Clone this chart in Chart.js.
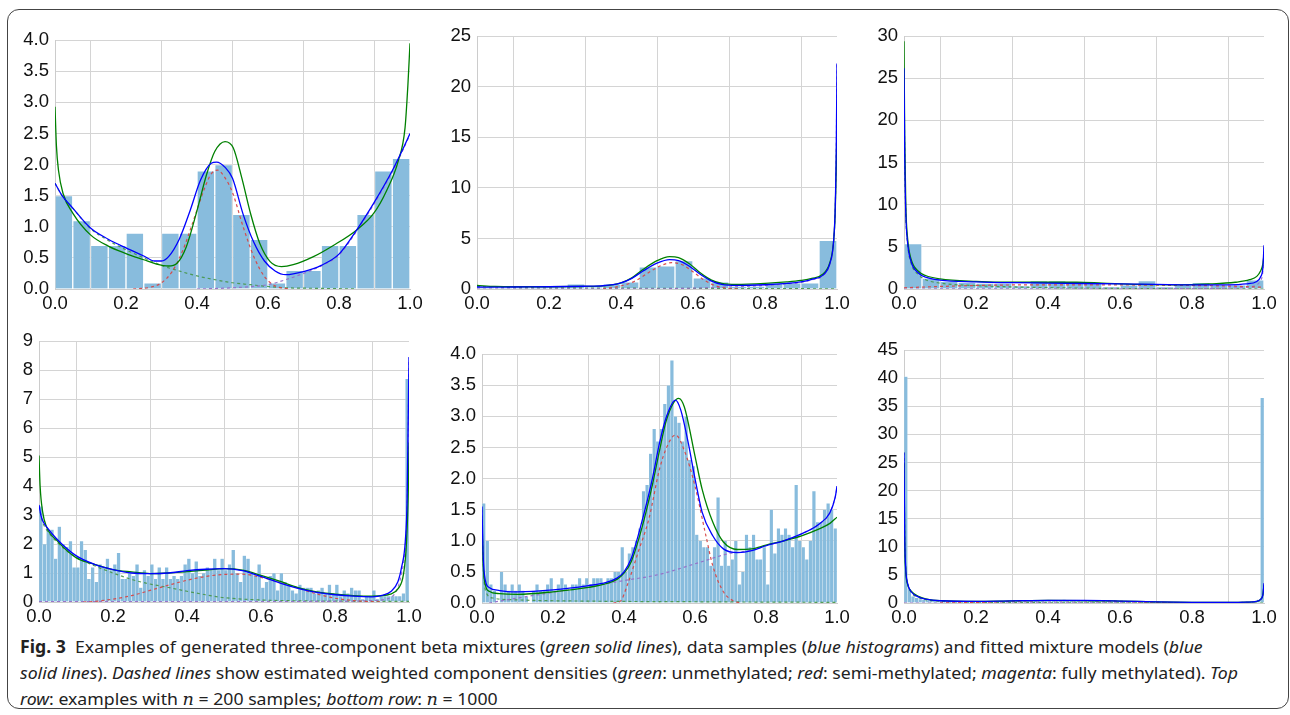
<!DOCTYPE html>
<html>
<head>
<meta charset="utf-8">
<script src="https://cdn.jsdelivr.net/npm/chart.js@4.4.1/dist/chart.umd.min.js"></script>
<style>
  body { margin: 0; background: #fff; width: 1290px; height: 715px; overflow: hidden; position: relative; }
  #frame { position: absolute; left: 7px; top: 9px; width: 1282px; height: 700px; border: 1.5px solid #444; border-radius: 12px; box-sizing: border-box; }
  .panel { position: absolute; }
  #caption { position: absolute; left: 20px; top: 634px; font-family: "Noto Sans", "DejaVu Sans", sans-serif; font-size: 17px; color: #222; transform-origin: 0 0; }
  #caption .ln { white-space: nowrap; line-height: 26px; height: 26px; }
  #caption .m { font-family: "DejaVu Serif", serif; }
</style>
</head>
<body>
<div id="frame"></div>
<div id="caption">
  <div class="ln" id="cap1"><b>Fig. 3</b>&nbsp; Examples of generated three-component beta mixtures (<i>green solid lines</i>), data samples (<i>blue histograms</i>) and fitted mixture models (<i>blue</i></div>
  <div class="ln"><i>solid lines</i>). <i>Dashed lines</i> show estimated weighted component densities (<i>green</i>: unmethylated; <i>red</i>: semi-methylated; <i>magenta</i>: fully methylated). <i>Top</i></div>
  <div class="ln"><i>row</i>: examples with <i class="m">n</i> = 200 samples; <i>bottom row</i>: <i class="m">n</i> = 1000</div>
</div>
<script>
// x axis ticks (same for every panel)
const xTicks = [0, 0.2, 0.4, 0.6, 0.8, 1.0];

// ---- top row, n = 200, 20 bins ----
const hist1 = [1.5, 1.1, 0.7, 0.7, 0.9, 0.1, 0.9, 0.9, 1.9, 2.0, 1.2, 0.8, 0.1, 0.3, 0.3, 0.7, 0.7, 1.2, 1.9, 2.1];
const p1Mix = [[0,2.93],[0.004,2.3],[0.01,1.9],[0.023,1.53],[0.05,1.22],[0.1,0.87],[0.15,0.69],[0.2,0.57],[0.25,0.47],[0.286,0.40],[0.32,0.37],[0.343,0.41],[0.37,0.68],[0.4,1.26],[0.427,1.84],[0.45,2.21],[0.479,2.37],[0.502,2.27],[0.526,1.79],[0.551,1.21],[0.577,0.73],[0.606,0.44],[0.638,0.36],[0.671,0.39],[0.728,0.52],[0.784,0.70],[0.85,0.95],[0.897,1.21],[0.934,1.58],[0.967,2.06],[0.986,2.59],[0.994,3.27],[1.0,3.95]];
const p1Fit = [[0,1.70],[0.02,1.5],[0.05,1.3],[0.1,0.98],[0.15,0.8],[0.2,0.66],[0.25,0.53],[0.28,0.45],[0.3,0.45],[0.32,0.52],[0.35,0.8],[0.38,1.25],[0.41,1.75],[0.44,2.02],[0.455,2.04],[0.48,1.95],[0.5,1.78],[0.53,1.2],[0.56,0.75],[0.59,0.45],[0.62,0.29],[0.65,0.23],[0.7,0.28],[0.75,0.38],[0.8,0.56],[0.85,0.95],[0.9,1.4],[0.95,1.9],[0.98,2.25],[1.0,2.5]];
const p1Unmeth = [[0,1.70],[0.02,1.5],[0.05,1.3],[0.1,0.97],[0.15,0.78],[0.2,0.63],[0.25,0.5],[0.3,0.38],[0.35,0.29],[0.4,0.21],[0.45,0.15],[0.5,0.1],[0.55,0.07],[0.6,0.04],[0.65,0.02],[0.75,0.01],[0.85,0]];
const p1Semi = [[0.22,0],[0.27,0.03],[0.3,0.1],[0.33,0.28],[0.36,0.62],[0.39,1.1],[0.42,1.6],[0.44,1.85],[0.458,1.91],[0.475,1.82],[0.5,1.55],[0.53,1.0],[0.56,0.52],[0.59,0.2],[0.62,0.05],[0.66,0]];
const p1Full = [[0.4,0],[0.5,0.02],[0.6,0.07],[0.65,0.15],[0.7,0.25],[0.75,0.37],[0.8,0.55],[0.85,0.93],[0.9,1.38],[0.95,1.88],[1.0,2.48]];

const hist2 = [0.2, 0.1, 0.1, 0.2, 0.2, 0.5, 0.2, 0.5, 0.7, 2.2, 2.3, 2.8, 1.1, 0.7, 0.3, 0.3, 0.6, 0.6, 0.6, 4.8];
const p2Mix = [[0,0.35],[0.05,0.25],[0.1,0.22],[0.2,0.22],[0.3,0.25],[0.35,0.3],[0.4,0.6],[0.43,1.1],[0.46,1.9],[0.5,2.8],[0.535,3.2],[0.56,3.1],[0.59,2.5],[0.62,1.6],[0.65,0.9],[0.68,0.55],[0.72,0.45],[0.8,0.55],[0.86,0.7],[0.9,0.85],[0.93,1.05],[0.96,1.45],[0.98,2.6],[0.99,4.5],[0.995,7.5],[0.998,12],[1.0,17.2]];
const p2Fit = [[0,0.2],[0.05,0.18],[0.1,0.2],[0.2,0.22],[0.3,0.27],[0.35,0.32],[0.4,0.6],[0.43,1.05],[0.46,1.75],[0.5,2.55],[0.535,2.9],[0.56,2.8],[0.59,2.25],[0.62,1.45],[0.65,0.8],[0.68,0.45],[0.72,0.35],[0.8,0.42],[0.86,0.55],[0.9,0.7],[0.93,0.95],[0.96,1.35],[0.98,2.5],[0.99,4.5],[0.995,8],[0.998,14],[1.0,22.3]];
const p2Unmeth = [[0,0.25],[0.1,0.15],[0.2,0.12],[0.3,0.1],[0.5,0.07],[0.7,0.05],[0.9,0.03],[1.0,0.02]];
const p2Semi = [[0.35,0],[0.4,0.3],[0.44,0.8],[0.48,1.7],[0.51,2.3],[0.54,2.6],[0.57,2.4],[0.6,1.7],[0.63,0.9],[0.66,0.35],[0.7,0.05],[0.73,0]];
const p2Full = [[0,0],[0.5,0.02],[0.7,0.2],[0.8,0.35],[0.86,0.5],[0.9,0.65],[0.93,0.9],[0.96,1.3],[0.98,2.45],[0.99,4.45],[0.995,7.9],[0.998,13.9],[1.0,22.2]];

const hist3 = [5.4, 1.3, 0.9, 0.8, 0.7, 0.7, 0.4, 1.0, 1.0, 0.8, 0.7, 0.3, 0.5, 1.0, 0.3, 0.5, 0.8, 0.5, 0.5, 1.1];
const p3Mix = [[0,29.4],[0.002,18],[0.005,10],[0.01,6],[0.02,3.5],[0.04,2.1],[0.06,1.6],[0.1,1.2],[0.2,0.9],[0.3,0.8],[0.4,0.8],[0.48,0.8],[0.55,0.7],[0.65,0.55],[0.75,0.5],[0.85,0.6],[0.92,0.8],[0.96,1.1],[0.98,1.5],[0.99,2.1],[0.997,3],[1.0,4.2]];
const p3Fit = [[0,26.2],[0.002,16],[0.005,9],[0.01,5.5],[0.02,3.2],[0.04,1.9],[0.06,1.4],[0.1,1.05],[0.2,0.85],[0.3,0.75],[0.4,0.7],[0.5,0.65],[0.6,0.6],[0.7,0.55],[0.8,0.5],[0.9,0.5],[0.95,0.6],[0.98,0.9],[0.99,1.4],[0.997,2.6],[1.0,5.2]];
const p3Unmeth = [[0,26.0],[0.002,15.8],[0.005,8.8],[0.01,5.3],[0.02,3.0],[0.04,1.7],[0.06,1.1],[0.1,0.7],[0.2,0.4],[0.3,0.25],[0.5,0.1],[0.7,0.04],[1.0,0]];
const p3Semi = [[0,0.15],[0.1,0.3],[0.2,0.42],[0.3,0.48],[0.5,0.5],[0.7,0.45],[0.9,0.35],[1.0,0.2]];
const p3Full = [[0,0],[0.5,0.02],[0.8,0.05],[0.9,0.1],[0.95,0.2],[0.98,0.5],[0.99,1.0],[0.997,2.2],[1.0,5.0]];

// ---- bottom row, n = 1000, 100 bins ----
const hist4 = [
  3.3, 2.0, 2.5, 2.5, 1.5, 2.6, 2.0, 1.9, 2.1, 1.2,
  1.2, 2.1, 1.8, 0.8, 1.2, 0.7, 1.3, 1.2, 1.5, 1.1,
  1.3, 1.7, 0.8, 0.8, 1.0, 0.9, 1.3, 0.5, 1.1, 0.9,
  1.3, 0.8, 1.2, 0.8, 1.2, 0.8, 0.9, 0.8, 0.9, 1.3,
  1.5, 1.0, 1.4, 0.9, 1.0, 1.2, 1.1, 1.5, 1.1, 1.5,
  1.1, 1.3, 1.8, 1.0, 0.7, 1.6, 1.5, 1.0, 0.9, 1.3,
  0.5, 0.7, 0.9, 1.0, 0.4, 1.0, 0.7, 0.6, 0.4, 0.3,
  0.6, 0.5, 0.5, 0.5, 0.3, 0.4, 0.5, 0.3, 0.6, 0.3,
  0.6, 0.2, 0.4, 0.3, 0.5, 0.4, 0.4, 0.1, 0.2, 0.2,
  0.4, 0.1, 0.2, 0.2, 0.2, 0.2, 0.2, 0.2, 0.3, 7.7
];
const p4Mix = [[0,5.05],[0.003,4.0],[0.01,3.1],[0.02,2.6],[0.05,2.1],[0.1,1.53],[0.15,1.3],[0.2,1.12],[0.25,1.04],[0.3,0.98],[0.35,1.0],[0.4,1.05],[0.45,1.1],[0.5,1.15],[0.55,1.1],[0.6,0.92],[0.65,0.72],[0.7,0.5],[0.75,0.35],[0.8,0.27],[0.85,0.22],[0.9,0.2],[0.95,0.27],[0.97,0.45],[0.985,0.95],[0.993,2.0],[0.998,3.8],[1.0,5.5]];
const p4Fit = [[0,3.35],[0.005,3.0],[0.01,2.8],[0.02,2.6],[0.05,2.15],[0.1,1.6],[0.15,1.3],[0.2,1.12],[0.25,1.0],[0.3,0.98],[0.35,1.0],[0.4,1.08],[0.45,1.13],[0.5,1.15],[0.55,1.08],[0.6,0.88],[0.65,0.66],[0.7,0.47],[0.75,0.33],[0.8,0.25],[0.85,0.2],[0.9,0.18],[0.93,0.24],[0.95,0.35],[0.97,0.7],[0.98,1.2],[0.99,2.1],[0.995,3.6],[1.0,8.45]];
const p4Unmeth = [[0,3.3],[0.01,2.75],[0.02,2.5],[0.05,2.05],[0.1,1.55],[0.15,1.25],[0.2,1.0],[0.25,0.78],[0.3,0.62],[0.35,0.5],[0.4,0.37],[0.45,0.25],[0.5,0.15],[0.6,0.07],[0.7,0.04],[0.8,0.03],[0.9,0.02],[1.0,0.02]];
const p4Semi = [[0.12,0],[0.15,0.02],[0.2,0.1],[0.25,0.22],[0.3,0.4],[0.35,0.58],[0.4,0.75],[0.45,0.88],[0.5,0.95],[0.55,0.96],[0.6,0.85],[0.65,0.68],[0.7,0.48],[0.75,0.28],[0.8,0.13],[0.85,0.05],[0.9,0.01],[0.93,0]];
const p4Full = [[0,0.01],[0.8,0.02],[0.9,0.05],[0.95,0.15],[0.97,0.5],[0.98,1.0],[0.99,1.9],[0.995,3.4],[1.0,8.4]];

const hist5 = [
  1.6, 1.0, 0.3, 0.2, 0.0, 0.5, 0.3, 0.2, 0.3, 0.2,
  0.3, 0.2, 0.1, 0.0, 0.2, 0.3, 0.2, 0.2, 0.3, 0.4,
  0.2, 0.3, 0.4, 0.3, 0.2, 0.3, 0.3, 0.4, 0.3, 0.4,
  0.3, 0.4, 0.4, 0.4, 0.3, 0.4, 0.4, 0.5, 0.5, 0.9,
  0.5, 0.8, 0.9, 1.0, 1.2, 1.8, 1.9, 2.4, 2.8, 2.6,
  2.8, 3.2, 3.5, 3.9, 3.0, 2.9, 2.6, 3.0, 2.3, 2.2,
  1.1, 1.0, 0.9, 0.9, 0.6, 0.9, 1.7, 0.6, 1.0, 0.6,
  0.7, 1.0, 0.3, 0.5, 1.1, 0.9, 1.1, 0.7, 0.7, 0.9,
  0.3, 1.5, 0.8, 1.2, 1.1, 1.2, 1.1, 0.9, 1.9, 1.0,
  0.9, 0.7, 1.0, 1.8, 1.3, 1.3, 1.5, 1.6, 1.5, 1.2
];
const p5Mix = [[0,1.35],[0.003,0.65],[0.01,0.28],[0.02,0.19],[0.05,0.15],[0.1,0.14],[0.2,0.18],[0.3,0.25],[0.35,0.31],[0.38,0.38],[0.4,0.48],[0.42,0.66],[0.45,1.2],[0.48,1.9],[0.5,2.45],[0.52,2.95],[0.554,3.29],[0.57,3.15],[0.6,2.36],[0.62,1.83],[0.65,1.3],[0.68,0.98],[0.72,0.86],[0.76,0.87],[0.8,0.93],[0.85,1.0],[0.9,1.08],[0.95,1.19],[0.98,1.28],[1.0,1.38]];
const p5Fit = [[0,1.55],[0.003,0.8],[0.01,0.35],[0.02,0.25],[0.05,0.2],[0.1,0.18],[0.2,0.21],[0.3,0.28],[0.35,0.33],[0.38,0.4],[0.4,0.5],[0.42,0.71],[0.45,1.3],[0.48,2.0],[0.5,2.57],[0.52,3.0],[0.545,3.26],[0.56,3.1],[0.58,2.6],[0.6,2.0],[0.62,1.46],[0.65,1.08],[0.68,0.87],[0.72,0.81],[0.76,0.84],[0.8,0.92],[0.85,1.0],[0.9,1.11],[0.95,1.27],[0.98,1.45],[0.995,1.7],[1.0,1.88]];
const p5Unmeth = [[0,1.5],[0.003,0.7],[0.01,0.2],[0.03,0.08],[0.1,0.05],[0.3,0.03],[0.6,0.02],[1.0,0.01]];
const p5Semi = [[0.37,0],[0.39,0.03],[0.41,0.3],[0.44,0.82],[0.47,1.35],[0.5,2.15],[0.52,2.5],[0.545,2.7],[0.57,2.45],[0.6,1.88],[0.63,1.1],[0.65,0.6],[0.68,0.18],[0.71,0.03],[0.73,0]];
const p5Full = [[0.02,0],[0.1,0.08],[0.2,0.17],[0.3,0.26],[0.4,0.36],[0.5,0.46],[0.6,0.63],[0.7,0.8],[0.75,0.84],[0.8,0.92],[0.85,1.0],[0.9,1.11],[0.95,1.27],[0.98,1.45],[0.995,1.7],[1.0,1.86]];

const hist6 = [
  40.3, 2.5, 1.2, 0.9, 0.7, 0.6, 0.5, 0.7, 0.4, 0.3,
  0.3, 0.3, 0.2, 0.3, 0.2, 0.2, 0.3, 0.2, 0.2, 0.3,
  0.2, 0.3, 0.2, 0.3, 0.3, 0.3, 0.3, 0.4, 0.3, 0.4,
  0.4, 0.4, 0.5, 0.4, 0.5, 0.4, 0.5, 0.4, 0.5, 0.5,
  0.4, 0.5, 0.5, 0.4, 0.6, 0.5, 0.4, 0.5, 0.4, 0.5,
  0.4, 0.4, 0.4, 0.5, 0.3, 0.4, 0.4, 0.3, 0.3, 0.3,
  0.3, 0.2, 0.3, 0.2, 0.2, 0.3, 0.2, 0.1, 0.2, 0.1,
  0.1, 0.1, 0.2, 0.1, 0.1, 0.1, 0.1, 0.1, 0.1, 0.1,
  0.1, 0.1, 0.1, 0.1, 0.1, 0.1, 0.1, 0.1, 0.1, 0.1,
  0.1, 0.1, 0.1, 0.1, 0.1, 0.2, 0.2, 0.3, 0.6, 36.5
];
const p6Mix = [[0,25],[0.002,11],[0.005,5.5],[0.01,3.3],[0.02,2.1],[0.04,1.2],[0.06,0.75],[0.1,0.42],[0.2,0.3],[0.3,0.38],[0.4,0.45],[0.5,0.44],[0.6,0.34],[0.7,0.2],[0.8,0.12],[0.9,0.1],[0.95,0.14],[0.98,0.3],[0.99,0.6],[0.997,1.5],[1.0,3.2]];
const p6Fit = [[0,26.8],[0.002,12],[0.005,6],[0.01,3.5],[0.02,2.0],[0.04,1.1],[0.06,0.7],[0.1,0.4],[0.2,0.3],[0.3,0.38],[0.4,0.45],[0.5,0.45],[0.6,0.35],[0.7,0.2],[0.8,0.12],[0.9,0.1],[0.95,0.15],[0.98,0.3],[0.99,0.6],[0.997,1.5],[1.0,3.5]];
const p6Unmeth = [[0,26.8],[0.002,12],[0.005,6],[0.01,3.5],[0.02,1.9],[0.04,1.0],[0.06,0.6],[0.1,0.3],[0.2,0.15],[0.3,0.08],[0.5,0.03],[1.0,0]];
const p6Semi = [[0.1,0],[0.2,0.1],[0.3,0.3],[0.4,0.42],[0.5,0.42],[0.6,0.3],[0.7,0.12],[0.8,0.03],[0.9,0]];
const p6Full = [[0,0],[0.9,0.05],[0.95,0.12],[0.98,0.28],[0.99,0.58],[0.997,1.5],[1.0,3.5]];

// colours
const BAR = 'rgb(136,188,221)';
const GREEN = 'rgb(0,128,0)';
const BLUE = 'rgb(0,0,255)';
const DGREEN = 'rgba(70,150,70,0.9)';
const DRED = 'rgba(215,70,70,0.95)';
const DMAG = 'rgba(150,110,200,0.95)';

const AXIS_W = 55, AXIS_H = 35, PAD_T = 15, PAD_R = 30;

function toXY(arr) { return arr.map(p => ({ x: p[0], y: p[1] })); }

function line(data, color, dashed, order) {
    return {
        type: 'line', data: toXY(data), borderColor: color, borderWidth: dashed ? 1.2 : 1.3,
        borderDash: dashed ? [3, 3] : [], pointRadius: 0, cubicInterpolationMode: 'monotone',
        fill: false, order: order
    };
}

// plot area in page pixels: l, t, r, b
function makePanel(rect, hist, yMax, yStep, dec, curves) {
    const [l, t, r, b] = rect;
    const w = r - l + AXIS_W + PAD_R, h = b - t + PAD_T + AXIS_H;
    const div = document.createElement('div');
    div.className = 'panel';
    div.style.left = (l - AXIS_W) + 'px';
    div.style.top = (t - PAD_T) + 'px';
    const cv = document.createElement('canvas');
    cv.width = w; cv.height = h;
    div.appendChild(cv);
    document.body.appendChild(div);

    const bw = 1 / hist.length;
    const bars = hist.map((v, i) => ({ x: (i + 0.5) * bw, y: v }));
    const font = { family: 'Liberation Sans', size: 18.5 };

    new Chart(cv, {
        type: 'bar',
        data: {
            datasets: [
                line(curves.fit, BLUE, false, 0),
                line(curves.mix, GREEN, false, 1),
                line(curves.semi, DRED, true, 2),
                line(curves.full, DMAG, true, 3),
                line(curves.unmeth, DGREEN, true, 4),
                { type: 'bar', data: bars, backgroundColor: BAR, borderColor: 'rgba(255,255,255,0.25)',
                  borderWidth: hist.length > 50 ? 0.5 : 1, barPercentage: 1, categoryPercentage: 1, order: 10 }
            ]
        },
        options: {
            responsive: false, animation: false,
            layout: { padding: { top: PAD_T, right: PAD_R, left: 0, bottom: 0 } },
            plugins: { legend: { display: false }, tooltip: { enabled: false } },
            scales: {
                x: {
                    type: 'linear', min: 0, max: 1, offset: false,
                    afterBuildTicks: s => { s.ticks = xTicks.map(v => ({ value: v })); },
                    afterFit: s => { s.height = AXIS_H; },
                    ticks: { color: '#111', font: font, padding: 4, maxRotation: 0, callback: v => v.toFixed(1) },
                    grid: { color: '#d4d4d4', lineWidth: 1, drawTicks: false },
                    border: { color: '#cccccc' }
                },
                y: {
                    min: 0, max: yMax,
                    afterFit: s => { s.width = AXIS_W; },
                    ticks: { stepSize: yStep, color: '#111', font: font, padding: 6, callback: v => v.toFixed(dec) },
                    grid: { color: '#d4d4d4', lineWidth: 1, drawTicks: false },
                    border: { color: '#cccccc' }
                }
            }
        }
    });
}

makePanel([55, 38, 410, 289], hist1, 4, 0.5, 1, { mix: p1Mix, fit: p1Fit, unmeth: p1Unmeth, semi: p1Semi, full: p1Full });
makePanel([477, 34, 837, 289], hist2, 25, 5, 0, { mix: p2Mix, fit: p2Fit, unmeth: p2Unmeth, semi: p2Semi, full: p2Full });
makePanel([904, 34, 1264, 289], hist3, 30, 5, 0, { mix: p3Mix, fit: p3Fit, unmeth: p3Unmeth, semi: p3Semi, full: p3Full });
makePanel([39, 339, 409, 602], hist4, 9, 1, 0, { mix: p4Mix, fit: p4Fit, unmeth: p4Unmeth, semi: p4Semi, full: p4Full });
makePanel([482, 352, 837, 603], hist5, 4, 0.5, 1, { mix: p5Mix, fit: p5Fit, unmeth: p5Unmeth, semi: p5Semi, full: p5Full });
makePanel([904, 348, 1264, 603], hist6, 45, 5, 0, { mix: p6Mix, fit: p6Fit, unmeth: p6Unmeth, semi: p6Semi, full: p6Full });

// squeeze the caption so the first line spans the same width as in the figure
const cap = document.getElementById('caption');
const w1 = document.getElementById('cap1').scrollWidth;
cap.style.transform = 'scaleX(' + (1218 / w1) + ')';
</script>
</body>
</html>
